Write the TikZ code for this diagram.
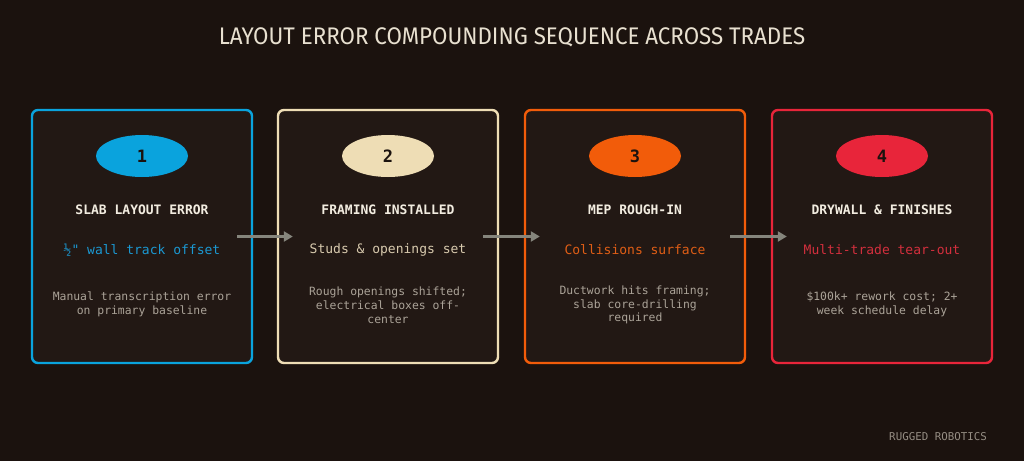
\documentclass[tikz,border=0pt]{standalone}
\usepackage{fontspec}
\setmainfont{Fira Sans}
\setmonofont{DejaVu Sans Mono}
\usetikzlibrary{shapes.geometric,arrows.meta}
\definecolor{bg}{HTML}{1B120E}
\definecolor{boxfill}{HTML}{221814}
\definecolor{cblue}{HTML}{0AA3DD}
\definecolor{ccream}{HTML}{EEDDB5}
\definecolor{corange}{HTML}{F25C0A}
\definecolor{cred}{HTML}{E8253A}
\definecolor{tblue}{HTML}{1B98D2}
\definecolor{tcream}{HTML}{D8CAAE}
\definecolor{torange}{HTML}{E05E16}
\definecolor{tred}{HTML}{D32F3D}
\definecolor{headc}{HTML}{F2ECE0}
\definecolor{descc}{HTML}{ABA398}
\definecolor{titlec}{HTML}{E8E0D0}
\definecolor{arrc}{HTML}{85857C}
\tikzset{
  stagebox/.style={draw=#1, line width=2.4pt, fill=boxfill, rounded corners=6pt,
    minimum width=220pt, minimum height=253pt, inner sep=0pt},
  numoval/.style={ellipse, fill=#1, minimum width=92pt, minimum height=42pt, inner sep=0pt,
    text=bg, font=\ttfamily\bfseries\fontsize{17}{19}\selectfont},
  headtxt/.style={text=headc, font=\ttfamily\bfseries\fontsize{13}{15}\selectfont},
  subtxt/.style={text=#1, font=\ttfamily\fontsize{13}{15}\selectfont},
  desctxt/.style={text=descc, align=center, font=\ttfamily\fontsize{11.4}{13.8}\selectfont},
  flowarrow/.style={draw=arrc, line width=2.4pt, -{Triangle[length=9pt,width=10pt]}},
}
\begin{document}
\begin{tikzpicture}[x=1pt,y=-1pt]
\fill[bg] (0,0) rectangle (1024,461);
\useasboundingbox (0,0) rectangle (1024,461);

\node[text=titlec, font=\fontsize{24}{26}\selectfont] (title) at (512,37)
  {\scalebox{0.93}[1]{LAYOUT ERROR COMPOUNDING SEQUENCE ACROSS TRADES}};

% boxes
\node[stagebox=cblue] (b1) at (142,236.5) {};
\node[stagebox=ccream] (b2) at (388,236.5) {};
\node[stagebox=corange] (b3) at (635,236.5) {};
\node[stagebox=cred] (b4) at (882,236.5) {};

% box 1
\node[numoval=cblue] (n1) at (142,156) {1};
\node[headtxt] (h1) at (142,210) {SLAB LAYOUT ERROR};
\node[subtxt=tblue] (s1) at (142,250) {½" wall track offset};
\node[desctxt] (d1) at (142,304.5) {Manual transcription error\\on primary baseline};

% box 2
\node[numoval=ccream] (n2) at (388,156) {2};
\node[headtxt] (h2) at (388,210) {FRAMING INSTALLED};
\node[subtxt=tcream] (s2) at (388,250) {Studs \& openings set};
\node[desctxt] (d2) at (388,305) {Rough openings shifted;\\electrical boxes off-\\center};

% box 3
\node[numoval=corange] (n3) at (635,156) {3};
\node[headtxt] (h3) at (635,210) {MEP ROUGH-IN};
\node[subtxt=torange] (s3) at (635,250) {Collisions surface};
\node[desctxt] (d3) at (635,305) {Ductwork hits framing;\\slab core-drilling\\required};

% box 4
\node[numoval=cred] (n4) at (882,156) {4};
\node[headtxt] (h4) at (882,210) {DRYWALL \& FINISHES};
\node[subtxt=tred] (s4) at (882,250) {Multi-trade tear-out};
\node[desctxt] (d4) at (882,304.5) {\$100k+ rework cost; 2+\\week schedule delay};

% arrows
\draw[flowarrow] ([xshift=-16pt]b1.east) -- ([xshift=16pt]b2.west);
\draw[flowarrow] ([xshift=-16pt]b2.east) -- ([xshift=16pt]b3.west);
\draw[flowarrow] ([xshift=-16pt]b3.east) -- ([xshift=16pt]b4.west);

\node[text=descc!85!bg, font=\ttfamily\fontsize{10.8}{12}\selectfont] (foot) at (938,437) {RUGGED ROBOTICS};
\end{tikzpicture}
\end{document}
